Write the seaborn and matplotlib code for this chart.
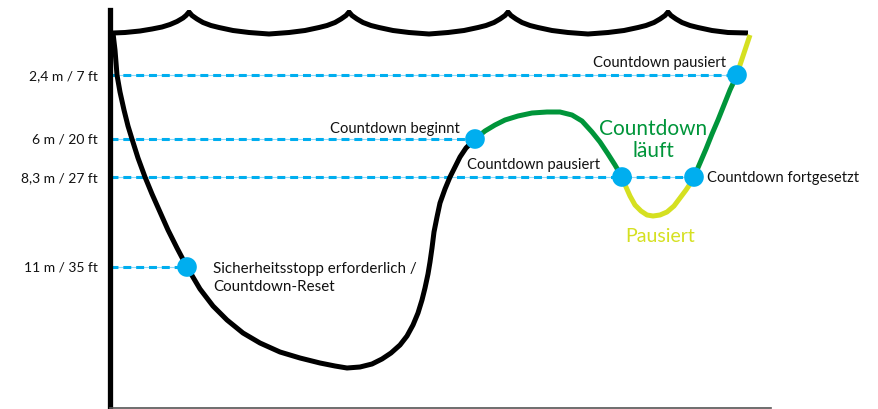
import matplotlib
matplotlib.use("Agg")
import matplotlib.pyplot as plt
import seaborn as sns

# ---- data (time in px-like units, depth in visual px-like units) ----
depth_ticks = [75, 139, 177, 267]
depth_labels = ["2,4 m / 7 ft", "6 m / 20 ft", "8,3 m / 27 ft", "11 m / 35 ft"]

surface_t = [113, 125, 140, 152, 162, 170, 177, 183, 186, 189,
             192, 197, 203, 211, 219, 233, 249, 269, 289, 305, 319, 327, 335, 341, 346, 349,
             352, 357, 363, 371, 379, 393, 409, 429, 448, 464, 478, 486, 494, 500, 505, 508,
             511, 516, 522, 530, 538, 552, 568, 588, 608, 624, 638, 646, 654, 660, 665, 668,
             671, 676, 682, 690, 698, 712, 728, 748]
surface_d = [33, 32.5, 31, 29, 27, 24.5, 21.5, 18, 15.5, 12,
             15.5, 19, 22.5, 25.5, 27.5, 30.5, 32.5, 34, 32.5, 30.5, 27.5, 25.5, 22.5, 19, 15.5, 12,
             15.5, 19, 22.5, 25.5, 27.5, 30.5, 32.5, 34, 32.5, 30.5, 27.5, 25.5, 22.5, 19, 15.5, 12,
             15.5, 19, 22.5, 25.5, 27.5, 30.5, 32.5, 34, 32.5, 30.5, 27.5, 25.5, 22.5, 19, 15.5, 12,
             15.5, 19, 22.5, 25.5, 27.5, 30.5, 32.5, 33]

descent_t = [113, 115, 117, 120, 124, 128, 132, 138, 145, 152, 160, 168, 177, 187, 200, 213, 227, 243,
             260, 280, 300, 320, 335, 347, 360, 372, 382, 391, 400, 407, 413, 418, 422, 425, 428, 430, 432,
             434, 437, 440, 445, 450, 455, 460, 466, 475]
descent_d = [33, 50, 75, 92, 110, 126, 139, 158, 177, 194, 212, 230, 248, 267, 289, 306, 320, 333,
             343, 352, 358, 363, 366, 368, 367, 364, 359, 353, 345, 336, 325, 313, 300, 288, 274, 262, 248,
             232, 217, 203, 189, 177, 167, 157, 148, 139]

run1_t = [475, 485, 495, 505, 518, 532, 547, 560, 572, 582, 592, 600, 608, 615, 622]
run1_d = [139, 131, 125, 120, 116, 113, 112, 112, 115, 121, 132, 142, 154, 165, 177]

pause1_t = [622, 626, 630, 635, 641, 647, 653, 660, 667, 674, 680, 686, 690, 694]
pause1_d = [177, 187, 196, 205, 211, 215, 216, 215, 212, 206, 198, 190, 184, 177]

run2_t = [694, 700, 706, 712, 718, 724, 730, 737]
run2_d = [177, 163, 149, 134, 120, 105, 90, 75]

pause2_t = [737, 740, 744, 747, 750]
pause2_d = [75, 65, 53, 44, 35]

event_t = [187, 475, 622, 694, 737]
event_d = [267, 139, 177, 177, 75]
guide_end_t = [187, 475, 694, 737]
guide_d = [267, 139, 177, 75]

BLACK = "#000000"
GREEN = "#00953A"
YELLOW = "#D5E021"
BLUE = "#00AEEF"
LIGHTBLUE = "#8FD8F7"

W, H = 879, 409
sns.set_theme(style="white")
plt.rcParams["font.family"] = ["Lato", "DejaVu Sans"]

fig = plt.figure(figsize=(W / 100, H / 100), dpi=100)
ax_left, ax_right, ax_top, ax_bot = 110, 771, 10, 407.5
ax = fig.add_axes([ax_left / W, (H - ax_bot) / H, (ax_right - ax_left) / W, (ax_bot - ax_top) / H])
ax.set_xlim(ax_left, ax_right)
ax.set_ylim(ax_bot, ax_top)
ax.set_facecolor("white")
fig.patch.set_facecolor("white")

for s in ["top", "right"]:
    ax.spines[s].set_visible(False)
ax.spines["left"].set_color(BLACK)
ax.spines["left"].set_linewidth(3.8)
ax.spines["bottom"].set_color("#555555")
ax.spines["bottom"].set_linewidth(1.2)

ax.set_xticks([])
ax.set_yticks(depth_ticks)
ax.set_yticklabels(depth_labels)
ax.tick_params(axis="y", length=0, pad=9, labelsize=10, labelcolor="#111111")

# guide lines
for te, d in zip(guide_end_t, guide_d):
    ax.plot([ax_left, te], [d, d], color=LIGHTBLUE, lw=0.8, zorder=1, solid_capstyle="butt")
    ax.plot([ax_left, te], [d, d], color=BLUE, lw=2.2, dashes=(2.6, 1.6), zorder=2)

def seg(t, d, color, join="round"):
    sns.lineplot(x=t, y=d, sort=False, estimator=None, color=color, lw=3.6, ax=ax,
                 zorder=3, solid_capstyle="butt", solid_joinstyle=join)

seg(surface_t, surface_d, BLACK, join="miter")
seg(descent_t, descent_d, BLACK)
seg(run1_t, run1_d, GREEN)
seg(pause1_t, pause1_d, YELLOW)
seg(run2_t, run2_d, GREEN)
seg(pause2_t, pause2_d, YELLOW)

sns.scatterplot(x=event_t, y=event_d, s=200, color=BLUE, edgecolor="none", ax=ax, zorder=5)

fs = 10.6
ax.text(726, 63, "Countdown pausiert", ha="right", va="center", fontsize=fs, color="#111111")
ax.text(460, 129, "Countdown beginnt", ha="right", va="center", fontsize=fs, color="#111111")
ax.text(467, 165, "Countdown pausiert", ha="left", va="center", fontsize=fs, color="#111111")
ax.text(707, 178, "Countdown fortgesetzt", ha="left", va="center", fontsize=fs, color="#111111")
ax.text(213, 278, "Sicherheitsstopp erforderlich /\nCountdown-Reset", ha="left", va="center",
        fontsize=10.9, color="#111111", linespacing=1.3)
ax.text(653, 140, "Countdown\nläuft", ha="center", va="center", fontsize=15, color=GREEN, linespacing=1.15)
ax.text(660, 237, "Pausiert", ha="center", va="center", fontsize=14, color=YELLOW)

fig.savefig("out.png", dpi=100, facecolor="white")
